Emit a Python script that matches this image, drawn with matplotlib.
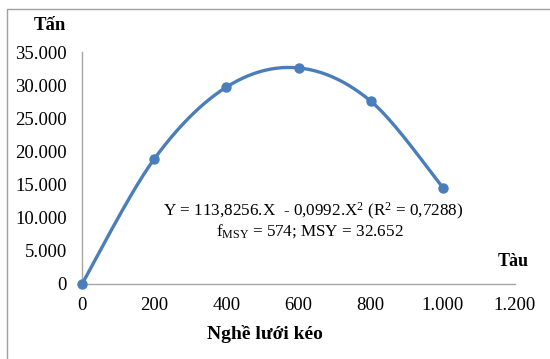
import numpy as np
import matplotlib.pyplot as plt
from matplotlib.patches import Rectangle
from matplotlib.ticker import FuncFormatter

# =========================
# 1. Dữ liệu
# =========================

so_tau = [0, 200, 400, 600, 800, 1000]
san_luong = [0, 18850, 29700, 32600, 27600, 14550]

x_ticks = [0, 200, 400, 600, 800, 1000, 1200]
y_ticks = [0, 5000, 10000, 15000, 20000, 25000, 30000, 35000]

phuong_trinh = "Y = 113,8256.X  - 0,0992.X$^{2}$ (R$^{2}$ = 0,7288)"
msy_text = "f$_{\\mathrm{MSY}}$ = 574; MSY = 32.652"

line_color = "#4A7EBB"
serif = "Liberation Serif"

plt.rcParams["font.family"] = serif
plt.rcParams["mathtext.fontset"] = "custom"
plt.rcParams["mathtext.rm"] = serif
plt.rcParams["mathtext.it"] = serif + ":italic"
plt.rcParams["mathtext.bf"] = serif + ":bold"


# =========================
# 2. Đường cong mượt kiểu Excel
# =========================

def smooth_curve(xs, ys, n=40):
    p = np.column_stack([xs, ys]).astype(float)
    p_ext = np.vstack([p[0], p, p[-1]])
    out = []
    for i in range(len(p) - 1):
        p0, p1, p2, p3 = p_ext[i], p_ext[i + 1], p_ext[i + 2], p_ext[i + 3]
        c1 = p1 + (p2 - p0) / 6
        c2 = p2 - (p3 - p1) / 6
        t = np.linspace(0, 1, n)[:, None]
        seg = ((1 - t) ** 3) * p1 + 3 * ((1 - t) ** 2) * t * c1 \
            + 3 * (1 - t) * (t ** 2) * c2 + (t ** 3) * p2
        out.append(seg)
    out = np.vstack(out)
    return out[:, 0], out[:, 1]


# =========================
# 3. Vẽ
# =========================

fig = plt.figure(figsize=(5.5, 3.59), dpi=100)
ax = fig.add_axes([82 / 550, 1 - 284 / 359, (515 - 82) / 550, (284 - 52) / 359])

sx, sy = smooth_curve(so_tau, san_luong)
ax.plot(sx, sy, color=line_color, lw=2.4, solid_capstyle="round", clip_on=False)
ax.plot(so_tau, san_luong, "o", color=line_color, ms=6.5, clip_on=False, zorder=3)

ax.set_xlim(0, 1200)
ax.set_ylim(0, 35000)
ax.set_xticks(x_ticks)
ax.set_yticks(y_ticks)

fmt = FuncFormatter(lambda v, pos: f"{int(v):,}".replace(",", "."))
ax.xaxis.set_major_formatter(fmt)
ax.yaxis.set_major_formatter(fmt)

for side in ["top", "right"]:
    ax.spines[side].set_visible(False)
for side in ["left", "bottom"]:
    ax.spines[side].set_color("#A6A6A6")
    ax.spines[side].set_linewidth(1.0)

ax.tick_params(axis="both", length=0, labelsize=13.5, colors="black")
ax.tick_params(axis="y", pad=11)
ax.tick_params(axis="x", pad=9)

fig.text(50 / 550, 1 - 26 / 359, "Tấn", ha="center", va="center",
         fontsize=13.5, fontweight="bold")
fig.text(513 / 550, 1 - 261 / 359, "Tàu", ha="center", va="center",
         fontsize=13, fontweight="bold")
fig.text(265 / 550, 1 - 334 / 359, "Nghề lưới kéo", ha="center", va="center",
         fontsize=14, fontweight="bold")

fig.text(313 / 550, 1 - 211 / 359, phuong_trinh, ha="center", va="center",
         fontsize=12.3)
fig.text(310 / 550, 1 - 231 / 359, msy_text, ha="center", va="center",
         fontsize=12.3)

# khung ngoài
fig.add_artist(Rectangle((6.5 / 550, -0.1), 1.2, 1 - 8.5 / 359 + 0.1,
                         transform=fig.transFigure, fill=False,
                         edgecolor="#A0A0A0", lw=1.0))

fig.savefig("out.png", dpi=100)
